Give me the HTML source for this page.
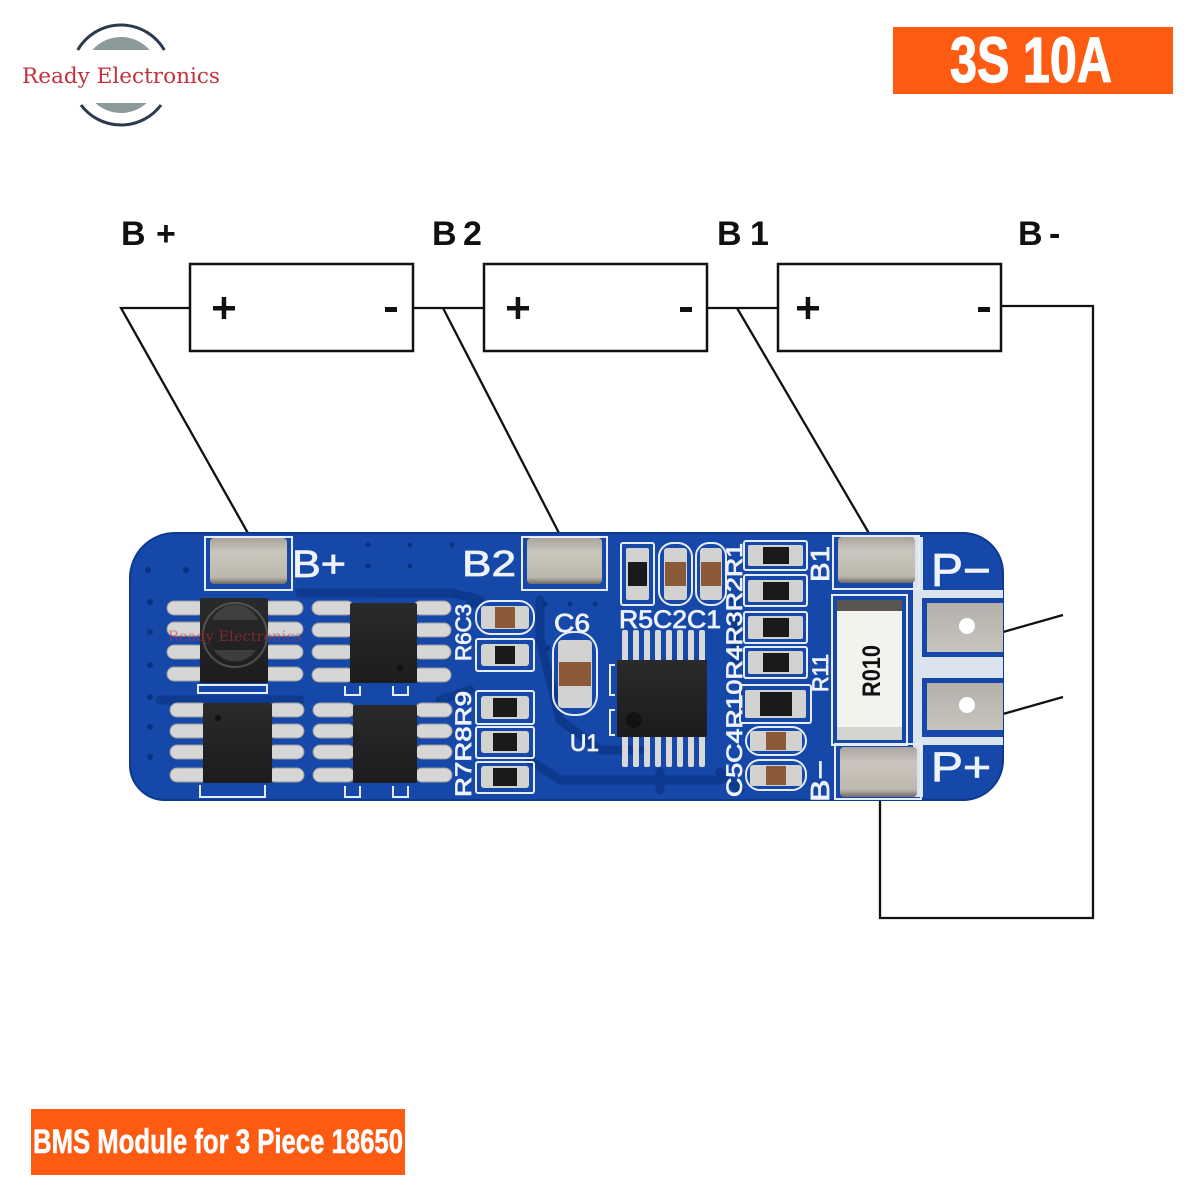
<!DOCTYPE html>
<html><head><meta charset="utf-8"><style>
html,body{margin:0;padding:0;background:#fff;}
svg{display:block;}
</style></head><body>
<svg width="1200" height="1200" viewBox="0 0 1200 1200" xmlns="http://www.w3.org/2000/svg">
<defs>
<linearGradient id="pad" x1="0" y1="0" x2="0" y2="1">
<stop offset="0" stop-color="#a9a49c"/><stop offset="0.3" stop-color="#cbc6bd"/><stop offset="0.85" stop-color="#bdb8ae"/><stop offset="1" stop-color="#6f6b66"/>
</linearGradient>
<linearGradient id="pad2" x1="0" y1="0" x2="0" y2="1">
<stop offset="0" stop-color="#b4b1ac"/><stop offset="1" stop-color="#c7c4be"/>
</linearGradient>
<linearGradient id="chip" x1="0" y1="0" x2="0" y2="1">
<stop offset="0" stop-color="#2a2a2c"/><stop offset="1" stop-color="#1c1c1e"/>
</linearGradient>
</defs>

<!-- Logo -->
<path d="M77.7,50 A50,50 0 0 1 164.3,50" fill="none" stroke="#2b3a4e" stroke-width="3"/>
<path d="M81,105 A50,50 0 0 0 161,105" fill="none" stroke="#2b3a4e" stroke-width="3"/>
<path d="M92.4,50 A38,38 0 0 1 149.6,50 Z" fill="#8d9a9a"/>
<path d="M95.3,103 A38,38 0 0 0 146.7,103 Z" fill="#8d9a9a"/>
<text x="22" y="83" font-family="'DejaVu Serif','Liberation Serif',serif" font-size="21" fill="#c3303c" textLength="198" lengthAdjust="spacingAndGlyphs">Ready Electronics</text>

<!-- Top orange -->
<rect x="893" y="27" width="280" height="67" fill="#fd5a12"/>
<text x="950" y="82" font-family="'Liberation Sans Narrow','Liberation Sans',sans-serif" font-weight="bold" font-size="64" fill="#fff" stroke="#fff" stroke-width="1.2" textLength="162" lengthAdjust="spacingAndGlyphs">3S 10A</text>

<!-- Bottom orange -->
<rect x="31" y="1109" width="374" height="66" fill="#fd5a12"/>
<text x="33" y="1153" font-family="'Liberation Sans Narrow','Liberation Sans',sans-serif" font-weight="bold" font-size="34" fill="#fff" stroke="#fff" stroke-width="0.6" textLength="370" lengthAdjust="spacingAndGlyphs">BMS Module for 3 Piece 18650</text>

<!-- Battery labels -->
<g font-family="'Liberation Sans',sans-serif" font-weight="bold" font-size="34" fill="#111">
<text x="121" y="245">B</text><text x="156" y="245">+</text>
<text x="432" y="245">B</text><text x="463" y="245">2</text>
<text x="717" y="245">B</text><text x="750" y="245">1</text>
<text x="1018" y="245">B</text><text x="1049" y="245">-</text>
</g>

<!-- Battery boxes -->
<g fill="#fff" stroke="#111" stroke-width="2.5">
<rect x="190" y="264" width="223" height="87"/>
<rect x="484" y="264" width="223" height="87"/>
<rect x="778" y="264" width="223" height="87"/>
</g>
<g fill="#111">
<rect x="213" y="306" width="22" height="4.5"/><rect x="221.7" y="297" width="4.5" height="22"/>
<rect x="507" y="306" width="22" height="4.5"/><rect x="515.7" y="297" width="4.5" height="22"/>
<rect x="797" y="306" width="22" height="4.5"/><rect x="805.7" y="297" width="4.5" height="22"/>
<rect x="385" y="307" width="12" height="5"/>
<rect x="680" y="307" width="12" height="5"/>
<rect x="978" y="307" width="12" height="5"/>
</g>

<!-- Wires -->
<g fill="none" stroke="#111" stroke-width="2.3">
<polyline points="190,308 121,308 249,535"/>
<polyline points="413,308 484,308"/>
<line x1="443" y1="308" x2="560" y2="535"/>
<polyline points="707,308 778,308"/>
<line x1="737" y1="308" x2="870" y2="535"/>
<polyline points="1001,306 1093,306 1093,918 880,918 880,798"/>
<line x1="1003" y1="632" x2="1063" y2="615"/>
<line x1="1003" y1="714" x2="1063" y2="697"/>
</g>

<!-- PCB -->
<path d="M175,533 H963 A40,40 0 0 1 1003,573 V760 A40,40 0 0 1 963,800 H165 A35,35 0 0 1 130,765 V578 A45,45 0 0 1 175,533 Z" fill="#1548a8" stroke="#0c3a8e" stroke-width="2"/>

<!-- traces -->
<g fill="none" stroke="#0d388c" stroke-width="9" stroke-linecap="round" opacity="0.9">
<path d="M300,593 H450 L475,598"/>
<path d="M160,700 H300"/>
<path d="M440,700 L470,690"/>
<path d="M540,600 V640 L560,720 L600,750 H640"/>
<path d="M660,772 V790"/>
<path d="M720,772 L740,790"/>
<path d="M735,600 L735,660"/>
<path d="M480,600 L470,605"/>
<path d="M530,760 L560,780 H720"/>
</g>

<!-- vias -->
<g fill="#0b3282">
<circle cx="148" cy="570" r="3"/><circle cx="186" cy="570" r="3"/>
<circle cx="150" cy="602" r="3"/><circle cx="150" cy="632" r="3"/><circle cx="150" cy="665" r="3"/>
<circle cx="150" cy="697" r="3"/><circle cx="150" cy="727" r="3"/><circle cx="150" cy="757" r="3"/>
<circle cx="368" cy="545" r="2.5"/><circle cx="410" cy="545" r="2.5"/><circle cx="452" cy="545" r="2.5"/>
<circle cx="368" cy="566" r="2.5"/><circle cx="410" cy="566" r="2.5"/>
<circle cx="545" cy="604" r="2.5"/><circle cx="570" cy="604" r="2.5"/><circle cx="595" cy="604" r="2.5"/>
<circle cx="548" cy="648" r="2.5"/>
</g>

<!-- Right light area -->
<rect x="913" y="590" width="90" height="155" fill="#dbe3ee"/>
<rect x="913" y="537" width="10" height="260" fill="#dbe3ee"/>
<rect x="922" y="598" width="81" height="59" fill="#1548a8"/>
<rect x="922" y="678" width="81" height="59" fill="#1548a8"/>
<rect x="927" y="603" width="76" height="49" fill="url(#pad2)"/>
<rect x="927" y="683" width="76" height="47" fill="url(#pad2)"/>
<circle cx="967" cy="626" r="8" fill="#fff"/>
<circle cx="967" cy="705" r="8" fill="#fff"/>

<!-- big pads -->
<g stroke="#e6ecf5" stroke-width="2" fill="none">
<rect x="205" y="537" width="87" height="53"/>
<rect x="522" y="537" width="85" height="53"/>
<rect x="833" y="536" width="86" height="53"/>
<rect x="835" y="744" width="86" height="55"/>
</g>
<g fill="url(#pad)">
<rect x="210" y="538" width="77" height="46" rx="4"/>
<rect x="527" y="538" width="75" height="46" rx="4"/>
<rect x="838" y="537" width="77" height="46" rx="4"/>
<rect x="840" y="747" width="77" height="50" rx="4"/>
</g>

<!-- R010 -->
<rect x="832" y="595" width="75" height="150" fill="none" stroke="#e6ecf5" stroke-width="2"/>
<rect x="837" y="600" width="65" height="140" fill="#f2f2ef"/>
<rect x="837" y="600" width="65" height="11" fill="#5a5550"/>
<rect x="837" y="727" width="65" height="13" fill="#d4d4d0"/>
<text transform="translate(880,697) rotate(-90)" font-family="'Liberation Sans Narrow','Liberation Sans',sans-serif" font-weight="bold" font-size="25" fill="#111" textLength="52" lengthAdjust="spacingAndGlyphs">R010</text>

<!-- SOIC pins -->
<g fill="#d6d6d6" stroke="#9a9a9a" stroke-width="1">
<rect x="167" y="601" width="38" height="14" rx="7"/><rect x="167" y="622" width="38" height="14" rx="7"/><rect x="167" y="645" width="38" height="14" rx="7"/><rect x="167" y="667" width="38" height="14" rx="7"/>
<rect x="263" y="601" width="40" height="14" rx="7"/><rect x="263" y="622" width="40" height="14" rx="7"/><rect x="263" y="645" width="40" height="14" rx="7"/><rect x="263" y="667" width="40" height="14" rx="7"/>
<rect x="312" y="601" width="42" height="14" rx="7"/><rect x="312" y="623" width="42" height="14" rx="7"/><rect x="312" y="645" width="42" height="14" rx="7"/><rect x="312" y="668" width="42" height="14" rx="7"/>
<rect x="413" y="601" width="38" height="14" rx="7"/><rect x="413" y="623" width="38" height="14" rx="7"/><rect x="413" y="645" width="38" height="14" rx="7"/><rect x="413" y="668" width="38" height="14" rx="7"/>
<rect x="170" y="703" width="38" height="14" rx="7"/><rect x="170" y="724" width="38" height="14" rx="7"/><rect x="170" y="745" width="38" height="14" rx="7"/><rect x="170" y="768" width="38" height="14" rx="7"/>
<rect x="268" y="703" width="36" height="14" rx="7"/><rect x="268" y="724" width="36" height="14" rx="7"/><rect x="268" y="745" width="36" height="14" rx="7"/><rect x="268" y="768" width="36" height="14" rx="7"/>
<rect x="313" y="703" width="42" height="14" rx="7"/><rect x="313" y="724" width="42" height="14" rx="7"/><rect x="313" y="745" width="42" height="14" rx="7"/><rect x="313" y="768" width="42" height="14" rx="7"/>
<rect x="415" y="703" width="37" height="14" rx="7"/><rect x="415" y="724" width="37" height="14" rx="7"/><rect x="415" y="745" width="37" height="14" rx="7"/><rect x="415" y="768" width="37" height="14" rx="7"/>
</g>
<!-- SOIC bodies -->
<g fill="url(#chip)">
<rect x="200" y="598" width="68" height="85" rx="2"/>
<rect x="350" y="603" width="67" height="80" rx="2"/>
<rect x="203" y="703" width="69" height="80" rx="2"/>
<rect x="353" y="705" width="64" height="78" rx="2"/>
</g>
<circle cx="400" cy="668" r="3" fill="#111"/>
<circle cx="218" cy="718" r="3" fill="#111"/>
<!-- silk brackets under chips -->
<g fill="none" stroke="#e6ecf5" stroke-width="2">
<rect x="198" y="685" width="69" height="8"/>
<path d="M345,686 V695 H360 V686 M393,686 V695 H408 V686"/>
<path d="M200,785 V797 H265 V785"/>
<path d="M345,786 V797 H360 V786 M393,786 V797 H408 V786"/>
</g>
<!-- watermark -->
<g opacity="0.55">
<circle cx="235" cy="635" r="32" fill="none" stroke="#777" stroke-width="2"/>
<path d="M212,620 A25,25 0 0 1 258,620 Z" fill="#555"/>
<path d="M214,650 A25,25 0 0 0 256,650 Z" fill="#555"/>
<text x="168" y="641" font-family="'DejaVu Serif','Liberation Serif',serif" font-size="14" fill="#c0303c" textLength="134" lengthAdjust="spacingAndGlyphs">Ready Electronics</text>
</g>

<!-- small components -->
<g fill="none" stroke="#e6ecf5" stroke-width="2">
<rect x="476" y="601" width="58" height="33" rx="15"/>
<rect x="476" y="639" width="58" height="32" rx="2"/>
<rect x="476" y="691" width="58" height="33" rx="2"/>
<rect x="476" y="727" width="58" height="31" rx="2"/>
<rect x="476" y="762" width="58" height="31" rx="2"/>
<rect x="553" y="632" width="44" height="83" rx="20"/>
<rect x="621" y="543" width="33" height="62" rx="2"/>
<rect x="659" y="543" width="33" height="62" rx="14"/>
<rect x="696" y="543" width="30" height="62" rx="13"/>
<rect x="744" y="541" width="63" height="29" rx="2"/>
<rect x="744" y="575" width="63" height="31" rx="2"/>
<rect x="744" y="612" width="63" height="31" rx="2"/>
<rect x="744" y="647" width="63" height="31" rx="2"/>
<rect x="740" y="685" width="71" height="38" rx="2"/>
<rect x="746" y="727" width="60" height="28" rx="14"/>
<rect x="746" y="760" width="60" height="30" rx="14"/>
<path d="M615,665 H610 V695 H615 M615,710 H610 V735 H615"/>
</g>
<g fill="#d2d2d0">
<rect x="481" y="606" width="48" height="23" rx="3"/>
<rect x="481" y="644" width="48" height="22" rx="3"/>
<rect x="481" y="696" width="48" height="23" rx="3"/>
<rect x="481" y="731" width="48" height="22" rx="3"/>
<rect x="481" y="766" width="48" height="22" rx="3"/>
<rect x="558" y="640" width="34" height="68" rx="4"/>
<rect x="626" y="548" width="23" height="52" rx="2"/>
<rect x="664" y="548" width="23" height="52" rx="3"/>
<rect x="700" y="548" width="22" height="52" rx="3"/>
<rect x="748" y="545" width="55" height="21" rx="2"/>
<rect x="748" y="580" width="55" height="22" rx="2"/>
<rect x="748" y="616" width="55" height="23" rx="2"/>
<rect x="748" y="651" width="55" height="23" rx="2"/>
<rect x="745" y="690" width="61" height="28" rx="2"/>
<rect x="750" y="731" width="52" height="20" rx="3"/>
<rect x="750" y="765" width="52" height="21" rx="3"/>
</g>
<g fill="#8b5a38">
<rect x="495" y="607" width="20" height="21"/>
<rect x="559" y="662" width="32" height="24"/>
<rect x="665" y="562" width="21" height="24"/>
<rect x="701" y="562" width="20" height="24"/>
<rect x="766" y="732" width="20" height="18"/>
<rect x="766" y="766" width="20" height="19"/>
</g>
<g fill="#1a1a1a">
<rect x="495" y="646" width="20" height="18"/>
<rect x="493" y="698" width="24" height="19"/>
<rect x="493" y="733" width="24" height="18"/>
<rect x="493" y="768" width="24" height="18"/>
<rect x="628" y="562" width="19" height="24"/>
<rect x="763" y="547" width="26" height="17"/>
<rect x="763" y="582" width="26" height="18"/>
<rect x="763" y="618" width="26" height="19"/>
<rect x="763" y="653" width="26" height="19"/>
<rect x="760" y="692" width="32" height="24"/>
</g>

<!-- U1 -->
<g fill="#d8d8d8">
<rect x="622" y="630" width="6" height="32" rx="2"/><rect x="633" y="630" width="6" height="32" rx="2"/><rect x="644" y="630" width="6" height="32" rx="2"/><rect x="655" y="630" width="6" height="32" rx="2"/><rect x="666" y="630" width="6" height="32" rx="2"/><rect x="677" y="630" width="6" height="32" rx="2"/><rect x="688" y="630" width="6" height="32" rx="2"/><rect x="699" y="630" width="6" height="32" rx="2"/>
<rect x="622" y="735" width="6" height="32" rx="2"/><rect x="633" y="735" width="6" height="32" rx="2"/><rect x="644" y="735" width="6" height="32" rx="2"/><rect x="655" y="735" width="6" height="32" rx="2"/><rect x="666" y="735" width="6" height="32" rx="2"/><rect x="677" y="735" width="6" height="32" rx="2"/><rect x="688" y="735" width="6" height="32" rx="2"/><rect x="699" y="735" width="6" height="32" rx="2"/>
</g>
<rect x="617" y="660" width="90" height="77" fill="url(#chip)"/>
<circle cx="634" cy="720" r="8" fill="#121212"/>

<!-- Silkscreen text -->
<g font-family="'Liberation Sans',sans-serif" fill="#eef3fa" stroke="#eef3fa" stroke-width="0.8">
<text x="292" y="577" font-size="38" textLength="54" lengthAdjust="spacingAndGlyphs">B+</text>
<text x="462" y="576" font-size="36" textLength="54" lengthAdjust="spacingAndGlyphs">B2</text>
<text x="931" y="586" font-size="46" textLength="60" lengthAdjust="spacingAndGlyphs">P−</text>
<text x="931" y="781" font-size="42" textLength="60" lengthAdjust="spacingAndGlyphs">P+</text>
<text x="554" y="632" font-size="26" textLength="36" lengthAdjust="spacingAndGlyphs">C6</text>
<text x="570" y="751" font-size="24" textLength="29" lengthAdjust="spacingAndGlyphs">U1</text>
<text x="619" y="628" font-size="25" textLength="102" lengthAdjust="spacingAndGlyphs">R5C2C1</text>
<text transform="translate(471,661) rotate(-90)" font-size="22" textLength="57" lengthAdjust="spacingAndGlyphs">R6C3</text>
<text transform="translate(471,797) rotate(-90)" font-size="22" textLength="106" lengthAdjust="spacingAndGlyphs">R7R8R9</text>
<text transform="translate(742,797) rotate(-90)" font-size="22" textLength="254" lengthAdjust="spacingAndGlyphs">C5C4R10R4R3R2R1</text>
<text transform="translate(829,582) rotate(-90)" font-size="26" textLength="36" lengthAdjust="spacingAndGlyphs">B1</text>
<text transform="translate(828,692) rotate(-90)" font-size="22" textLength="38" lengthAdjust="spacingAndGlyphs">R11</text>
<text transform="translate(829,802) rotate(-90)" font-size="26" textLength="42" lengthAdjust="spacingAndGlyphs">B−</text>
</g>
</svg>
</body></html>
